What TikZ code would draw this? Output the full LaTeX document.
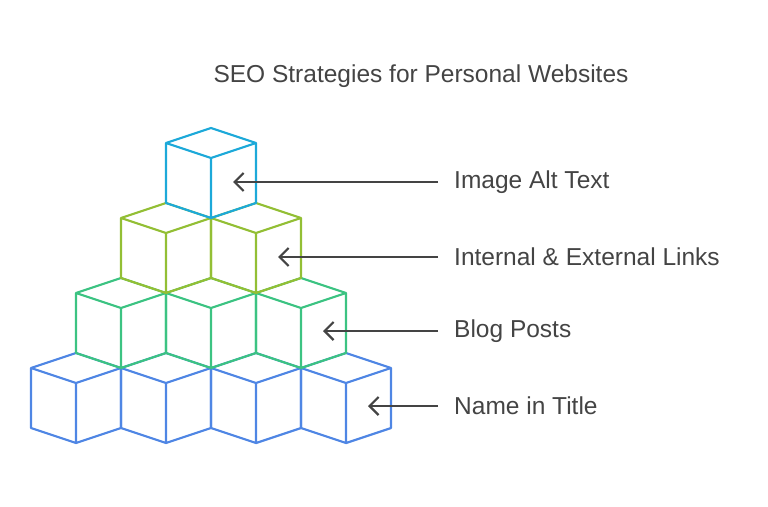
\documentclass[tikz,border=0pt]{standalone}
\usepackage{fontspec}
\setmainfont{Liberation Sans}
\usetikzlibrary{arrows.meta}
\definecolor{rowA}{HTML}{1DA9D9}
\definecolor{rowB}{HTML}{93BF35}
\definecolor{rowC}{HTML}{3CC382}
\definecolor{rowD}{HTML}{4F86E4}
\definecolor{txt}{HTML}{444444}
\newcommand{\blockcube}[3]{% centre x, top y, colour
  \draw[cube, draw=#3] (#1,#2) -- (#1+45,#2+15) -- (#1,#2+30) -- (#1-45,#2+15) -- cycle
    (#1-45,#2+15) -- (#1-45,#2+75) -- (#1,#2+90) -- (#1+45,#2+75) -- (#1+45,#2+15)
    (#1,#2+30) -- (#1,#2+90);}
\tikzset{
  cube/.style = {line width=2.2pt, line join=round},
  label/.style = {font=\fontsize{24.5}{29}\selectfont, text=txt, anchor=west, inner sep=0pt},
  pointer/.style = {draw=txt, line width=2.2pt, -{Straight Barb[length=9pt,width=18pt,line width=2.2pt]}}
}
\begin{document}
\begin{tikzpicture}[x=1pt, y=-1pt]
  \useasboundingbox (0,0) rectangle (768,506);
  % rows, bottom first
  \foreach \r/\col in {3/rowD, 2/rowC, 1/rowB, 0/rowA} {
    \foreach \k in {0,...,\r} {
      \blockcube{211-45*\r+90*\k}{128+75*\r}{\col}
    }
  }
  \node[font=\fontsize{24.5}{29}\selectfont, text=txt] (title) at (421,76) {SEO Strategies for Personal Websites};
  \node[label] (alt) at (454,182) {Image Alt Text};
  \node[label] (links) at (454,257) {Internal \& External Links};
  \node[label] (blog) at (454,331) {Blog Posts};
  \node[label] (name) at (454,406) {Name in Title};
  \coordinate (altend) at (233,182);
  \coordinate (linksend) at (278,257);
  \coordinate (blogend) at (323,331);
  \coordinate (nameend) at (368,406);
  \draw[pointer] ([xshift=-16pt]alt.west) -- (altend);
  \draw[pointer] ([xshift=-16pt]links.west) -- (linksend);
  \draw[pointer] ([xshift=-16pt]blog.west) -- (blogend);
  \draw[pointer] ([xshift=-16pt]name.west) -- (nameend);
\end{tikzpicture}
\end{document}
